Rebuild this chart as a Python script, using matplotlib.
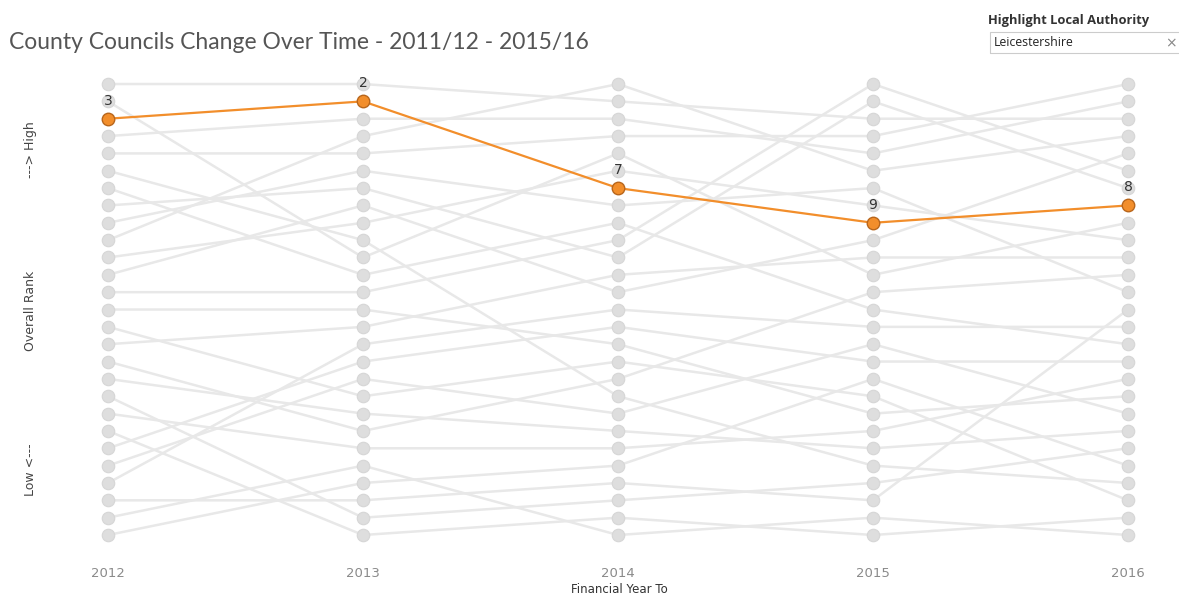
import matplotlib.pyplot as plt
from matplotlib.patches import Rectangle

# financial years (year to) and overall rank of each county council
years = [2012, 2013, 2014, 2015, 2016]
councils = ['Buckinghamshire', 'Cambridgeshire', 'Leicestershire', 'Cumbria', 'Derbyshire',
            'Devon', 'Dorset', 'East Sussex', 'Essex', 'Gloucestershire', 'Hampshire',
            'Hertfordshire', 'Kent', 'Lancashire', 'Lincolnshire', 'Norfolk',
            'North Yorkshire', 'Northamptonshire', 'Nottinghamshire', 'Oxfordshire',
            'Somerset', 'Staffordshire', 'Suffolk', 'Surrey', 'Warwickshire',
            'West Sussex', 'Worcestershire']
rank_2012 = [1, 2, 3, 4, 5, 6, 7, 8, 9, 10, 11, 12, 13, 14, 15, 16, 17, 18, 19, 20, 21, 22, 23, 24, 25, 26, 27]
rank_2013 = [1, 11, 2, 3, 5, 10, 12, 7, 6, 4, 9, 8, 13, 14, 19, 15, 21, 20, 26, 22, 27, 17, 18, 16, 25, 23, 24]
rank_2014 = [2, 5, 7, 3, 4, 19, 9, 11, 8, 1, 6, 13, 10, 16, 17, 12, 18, 21, 25, 22, 26, 15, 20, 14, 24, 27, 23]
rank_2015 = [3, 12, 9, 5, 4, 23, 14, 2, 7, 6, 8, 10, 1, 20, 19, 11, 13, 22, 24, 21, 27, 17, 16, 15, 25, 26, 18]
rank_2016 = [3, 9, 8, 2, 1, 24, 16, 7, 13, 4, 10, 5, 6, 19, 25, 11, 12, 21, 22, 18, 26, 17, 20, 15, 14, 27, 23]

highlight = 'Leicestershire'

grey_line = '#e8e8e8'
grey_dot = '#dedede'
orange = '#f28e2b'
orange_edge = '#b8661c'

fig = plt.figure(figsize=(11.79, 5.97), dpi=100)
ax = fig.add_axes([0.0594, 0.0787, 0.9296, 0.804])

ranks = list(zip(rank_2012, rank_2013, rank_2014, rank_2015, rank_2016))

# background councils first
for name, r in zip(councils, ranks):
    if name == highlight:
        continue
    ax.plot(years, r, color=grey_line, lw=1.8, zorder=1, solid_capstyle='round')
for name, r in zip(councils, ranks):
    if name == highlight:
        continue
    ax.plot(years, r, ls='none', marker='o', ms=9, mfc=grey_dot, mec='#d6d6d6',
            mew=0.8, zorder=2)

# highlighted council
hr = ranks[councils.index(highlight)]
ax.plot(years, hr, color=orange, lw=1.6, marker='o', ms=9, mfc=orange,
        mec=orange_edge, mew=1, zorder=4)
for x, y in zip(years, hr):
    ax.annotate(str(y), (x, y), xytext=(0, 8), textcoords='offset points',
                ha='center', va='bottom', fontsize=10, color='#333333', zorder=5)

ax.set_xlim(2012 - 38 / 255, 2016 + 38 / 255)
ax.set_ylim(27.865, 0.193)
ax.set_xticks(years)
ax.set_xticklabels([str(y) for y in years], fontsize=9.5, color='#8a8a8a')
ax.tick_params(axis='x', length=0, pad=12)
ax.set_yticks([])
for s in ax.spines.values():
    s.set_visible(False)

fig.text(0.525, 0.001, 'Financial Year To', ha='center', va='bottom',
         fontsize=8.5, color='#333333')

# y axis captions
fig.text(0.026, 0.75, '---> High', rotation=90, ha='center', va='center',
         fontsize=9, color='#444444')
fig.text(0.026, 0.48, 'Overall Rank', rotation=90, ha='center', va='center',
         fontsize=9, color='#444444')
fig.text(0.026, 0.213, 'Low <---', rotation=90, ha='center', va='center',
         fontsize=9, color='#444444')

fig.text(0.008, 0.928, 'County Councils Change Over Time - 2011/12 - 2015/16',
         ha='left', va='center', fontsize=16.5, color='#555555', family='Lato')

# highlight control in the top right
fig.text(0.838, 0.966, 'Highlight Local Authority', ha='left', va='center',
         fontsize=9.3, color='#333333', fontweight='bold', family='Open Sans')
fig.patches.append(Rectangle((0.840, 0.912), 0.17, 0.035, transform=fig.transFigure,
                             fill=False, edgecolor='#cccccc', lw=0.8))
fig.text(0.843, 0.929, 'Leicestershire', ha='left', va='center', fontsize=8.8,
         color='#222222', family='Open Sans')
fig.text(0.993, 0.927, '×', ha='center', va='center', fontsize=10, color='#888888')

fig.savefig('out.png', dpi=100)
